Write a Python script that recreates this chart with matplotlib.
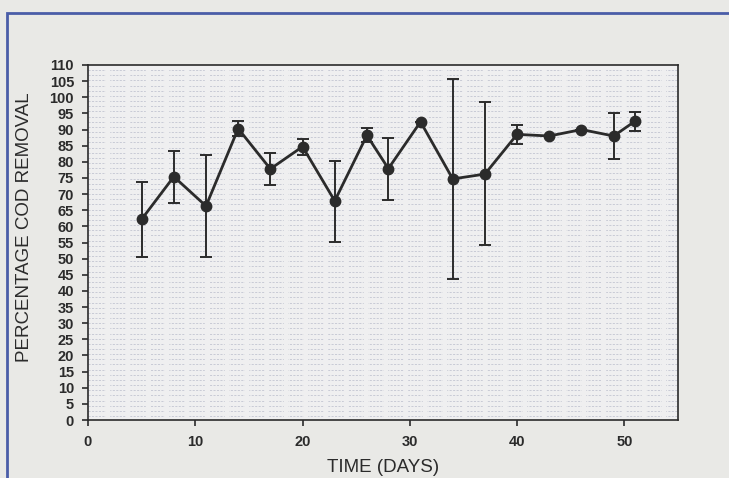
import numpy as np
import matplotlib.pyplot as plt
from matplotlib.patches import Rectangle

# data
days = [5, 8, 11, 14, 17, 20, 23, 26, 28, 31, 34, 37, 40, 43, 46, 49, 51]
removal = [62.2, 75.4, 66.3, 90.3, 77.8, 84.7, 67.9, 88.2, 77.9, 92.4,
           74.7, 76.2, 88.5, 88.0, 90.0, 88.0, 92.6]
err_hi = [73.8, 83.3, 82.0, 92.7, 82.8, 87.0, 80.4, 90.5, 87.3, 92.4,
          105.6, 98.5, 91.5, 88.0, 90.0, 95.0, 95.3]
err_lo = [50.6, 67.3, 50.4, 88.0, 72.7, 82.2, 55.3, 86.2, 68.2, 92.4,
          43.7, 54.2, 85.4, 88.0, 90.0, 81.0, 89.5]

removal = np.array(removal)
yerr = [removal - np.array(err_lo), np.array(err_hi) - removal]

plt.rcParams['font.family'] = ['Liberation Sans', 'DejaVu Sans']
ink = '#2b2b2b'

fig = plt.figure(figsize=(7.29, 4.78), dpi=100)
fig.patch.set_facecolor('#e9e9e6')
# blue frame of the scanned page
fig.patches.append(Rectangle((7 / 729, -0.05), 1.0, 1 - 13 / 478 + 0.05,
                             transform=fig.transFigure, fill=False,
                             edgecolor='#4a5da8', linewidth=2.0))

ax = fig.add_axes([88 / 729, 58 / 478, 590 / 729, 355 / 478])
ax.set_facecolor('#efeff0')

# faint dashed pattern of the plot area
for yy in np.arange(1.2, 110, 1.6):
    ax.axhline(yy, color='#b9bccb', lw=0.5, ls=(0, (3, 2)), zorder=0)
for xx in np.arange(1.85, 55, 1.85):
    ax.axvline(xx, color='#efeff0', lw=3.2, zorder=0.5)

ax.errorbar(days, removal, yerr=yerr, fmt='-o', color=ink, ecolor=ink,
            lw=2.0, elinewidth=1.4, capsize=4, capthick=1.4,
            markersize=7.5, markerfacecolor=ink, markeredgecolor=ink, zorder=3)

ax.set_xlim(0, 55)
ax.set_ylim(0, 110)
ax.set_xticks(np.arange(0, 51, 10))
ax.set_yticks(np.arange(0, 111, 5))
ax.tick_params(direction='out', length=4, width=1.2, color=ink,
               labelsize=10.5, labelcolor=ink)
ax.tick_params(axis='y', pad=6)
ax.tick_params(axis='x', pad=7)
for lab in ax.get_xticklabels() + ax.get_yticklabels():
    lab.set_fontweight('bold')
for s in ax.spines.values():
    s.set_color(ink)
    s.set_linewidth(1.2)

ax.set_xlabel('TIME (DAYS)', fontsize=13.5, color=ink, labelpad=7)
ax.set_ylabel('PERCENTAGE COD REMOVAL', fontsize=13.5, color=ink)
ax.yaxis.set_label_coords(-0.093, 0.542)

fig.savefig('out.png', dpi=100, facecolor=fig.get_facecolor())
